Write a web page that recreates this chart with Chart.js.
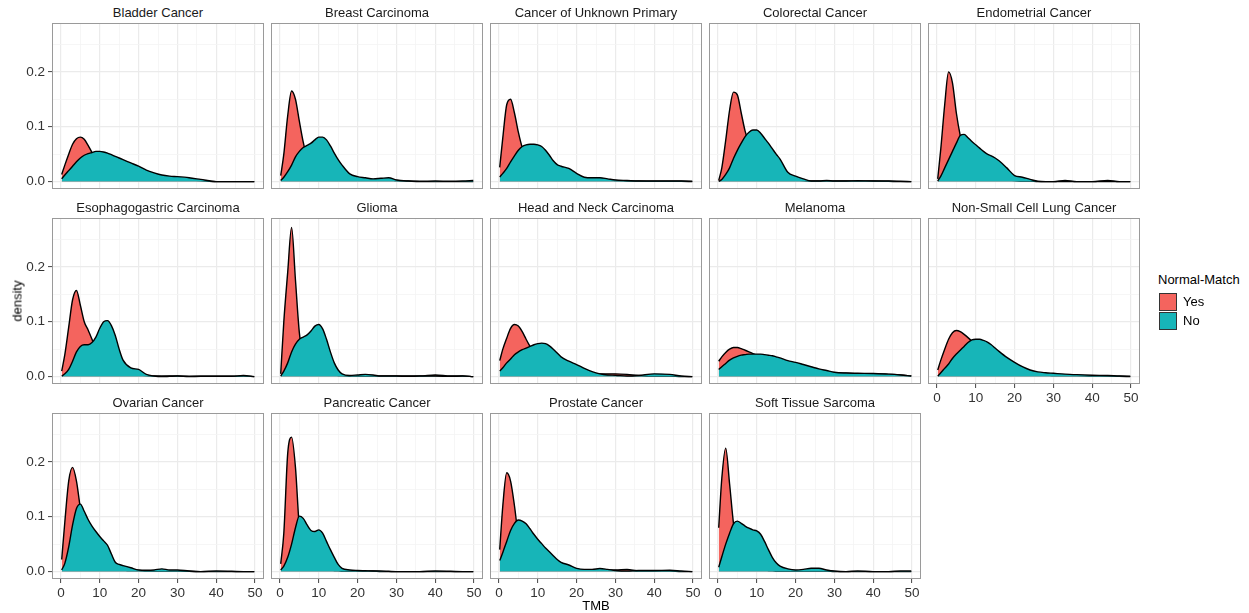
<!DOCTYPE html>
<html>
<head>
<meta charset="utf-8">
<title>TMB density by cancer type</title>
<script src="https://cdn.jsdelivr.net/npm/chart.js@4.4.1/dist/chart.umd.min.js"></script>
<style>
  body { margin: 0; background: #fff; font-family: "Liberation Sans", Arial, sans-serif; }
  #page { position: relative; width: 1249px; height: 613px; overflow: hidden; }
  canvas { position: absolute; }
  .strip { position: absolute; width: 212px; height: 16px; line-height: 16px; text-align: center; font-size: 13px; color: #1a1a1a; white-space: nowrap; }
  .axis-title { position: absolute; font-size: 13px; color: #000; white-space: nowrap; }
  .legend-title { position: absolute; left: 1158px; top: 272px; font-size: 13px; line-height: 16px; color: #000; }
  .key { position: absolute; left: 1159px; width: 16px; height: 16px; border: 1px solid #333; }
  .key-label { position: absolute; left: 1183px; font-size: 13px; line-height: 16px; color: #000; }
</style>
</head>
<body>
<div id="page"></div>
<script>
// TMB grid the density curves are sampled on
const tmb = [0.2, 1, 2, 3, 4, 5, 6, 7, 8, 9, 10, 11, 12, 13, 14, 15, 16, 18, 20, 22, 24, 26, 28, 30, 33, 36, 40, 44, 47, 49.8];

const cancerTypes = [
  'Bladder Cancer', 'Breast Carcinoma', 'Cancer of Unknown Primary', 'Colorectal Cancer', 'Endometrial Cancer',
  'Esophagogastric Carcinoma', 'Glioma', 'Head and Neck Carcinoma', 'Melanoma', 'Non-Small Cell Lung Cancer',
  'Ovarian Cancer', 'Pancreatic Cancer', 'Prostate Cancer', 'Soft Tissue Sarcoma'
];

const xTicks = [0, 5, 10, 15, 20, 25, 30, 35, 40, 45, 50];
const yTicks = [0, 0.05, 0.1, 0.15, 0.2, 0.25];

// density per group (Normal-Match = Yes / No)
const bladderYes = [0.013, 0.03, 0.05, 0.068, 0.078, 0.081, 0.077, 0.066, 0.053, 0.042, 0.033, 0.027, 0.022, 0.018, 0.015, 0.013, 0.012, 0.01, 0.008, 0.007, 0.006, 0.006, 0.005, 0.005, 0.003, 0.002, 0, 0, 0, 0];
const bladderNo = [0.005, 0.012, 0.02, 0.028, 0.036, 0.043, 0.048, 0.051, 0.053, 0.055, 0.055, 0.054, 0.052, 0.049, 0.046, 0.043, 0.04, 0.034, 0.028, 0.021, 0.016, 0.012, 0.01, 0.009, 0.007, 0.004, 0, 0, 0, 0];

const breastYes = [0.011, 0.05, 0.12, 0.165, 0.15, 0.11, 0.072, 0.045, 0.03, 0.02, 0.015, 0.012, 0.01, 0.008, 0.007, 0.006, 0.005, 0.004, 0.003, 0.003, 0.003, 0.003, 0.003, 0.002, 0.001, 0, 0, 0, 0, 0];
const breastNo = [0.002, 0.008, 0.018, 0.03, 0.045, 0.055, 0.062, 0.066, 0.07, 0.076, 0.081, 0.081, 0.076, 0.065, 0.052, 0.04, 0.03, 0.014, 0.009, 0.007, 0.005, 0.006, 0.007, 0.003, 0.001, 0.0005, 0.001, 0.0005, 0.001, 0.002];

const unknownPrimaryYes = [0.026, 0.08, 0.14, 0.15, 0.125, 0.09, 0.062, 0.045, 0.035, 0.028, 0.022, 0.018, 0.015, 0.012, 0.01, 0.009, 0.008, 0.007, 0.006, 0.005, 0.004, 0.004, 0.003, 0.002, 0.001, 0.001, 0.0005, 0.0005, 0.0005, 0];
const unknownPrimaryNo = [0.0085, 0.015, 0.024, 0.036, 0.047, 0.057, 0.064, 0.067, 0.068, 0.068, 0.067, 0.064, 0.057, 0.048, 0.038, 0.031, 0.028, 0.024, 0.015, 0.008, 0.007, 0.007, 0.005, 0.003, 0.002, 0.001, 0.001, 0.001, 0.001, 0.0005];

const colorectalYes = [0.002, 0.025, 0.075, 0.13, 0.163, 0.158, 0.125, 0.092, 0.07, 0.05, 0.035, 0.025, 0.018, 0.013, 0.01, 0.008, 0.006, 0.004, 0.003, 0.002, 0.001, 0.001, 0.001, 0.001, 0.001, 0.001, 0.001, 0.0005, 0, 0];
const colorectalNo = [0.0005, 0.004, 0.013, 0.025, 0.042, 0.057, 0.07, 0.082, 0.09, 0.094, 0.094, 0.088, 0.079, 0.07, 0.06, 0.05, 0.041, 0.017, 0.01, 0.005, 0.001, 0.001, 0.002, 0.001, 0.001, 0.0015, 0.001, 0.001, 0.0005, 0];

const endometrialYes = [0.005, 0.06, 0.14, 0.2, 0.18, 0.125, 0.084, 0.055, 0.04, 0.03, 0.022, 0.017, 0.013, 0.01, 0.008, 0.006, 0.005, 0.003, 0.002, 0.001, 0.001, 0, 0, 0, 0.002, 0, 0, 0.002, 0, 0];
const endometrialNo = [0.001, 0.01, 0.025, 0.04, 0.055, 0.07, 0.084, 0.086, 0.08, 0.073, 0.067, 0.061, 0.055, 0.05, 0.047, 0.043, 0.038, 0.025, 0.011, 0.008, 0.004, 0.0005, 0, 0, 0, 0, 0, 0, 0, 0];

const esophagogastricYes = [0.01, 0.04, 0.09, 0.14, 0.157, 0.13, 0.1, 0.085, 0.068, 0.05, 0.035, 0.025, 0.018, 0.013, 0.01, 0.008, 0.006, 0.004, 0.003, 0.002, 0.001, 0.001, 0.001, 0.001, 0.0005, 0.0005, 0.0005, 0.0005, 0.001, 0];
const esophagogastricNo = [0.001, 0.005, 0.013, 0.028, 0.045, 0.055, 0.058, 0.058, 0.062, 0.072, 0.088, 0.1, 0.102, 0.093, 0.075, 0.05, 0.03, 0.016, 0.013, 0.004, 0.001, 0, 0.0005, 0.001, 0, 0.0005, 0.0005, 0.0005, 0.002, 0];

const gliomaYes = [0.005, 0.1, 0.19, 0.272, 0.176, 0.08, 0.035, 0.022, 0.015, 0.01, 0.008, 0.006, 0.005, 0.004, 0.003, 0.002, 0.002, 0.001, 0.001, 0.001, 0.001, 0.001, 0.001, 0.001, 0.001, 0.001, 0.003, 0.001, 0.001, 0];
const gliomaNo = [0.001, 0.01, 0.025, 0.045, 0.059, 0.068, 0.072, 0.076, 0.083, 0.092, 0.095, 0.087, 0.068, 0.045, 0.025, 0.012, 0.005, 0.002, 0.003, 0.004, 0.003, 0.001, 0.001, 0.001, 0.0005, 0.001, 0.001, 0.0005, 0.001, 0];

const headNeckYes = [0.029, 0.05, 0.07, 0.088, 0.095, 0.092, 0.082, 0.068, 0.055, 0.042, 0.032, 0.025, 0.02, 0.016, 0.013, 0.011, 0.009, 0.007, 0.006, 0.005, 0.005, 0.005, 0.005, 0.005, 0.004, 0.002, 0.001, 0.001, 0, 0];
const headNeckNo = [0.01, 0.016, 0.025, 0.032, 0.04, 0.045, 0.049, 0.052, 0.055, 0.058, 0.06, 0.061, 0.06, 0.056, 0.05, 0.043, 0.036, 0.028, 0.022, 0.015, 0.009, 0.005, 0.003, 0.0025, 0.001, 0.002, 0.005, 0.004, 0.001, 0];

const melanomaYes = [0.028, 0.036, 0.044, 0.05, 0.053, 0.053, 0.051, 0.048, 0.045, 0.042, 0.039, 0.036, 0.034, 0.031, 0.029, 0.027, 0.025, 0.022, 0.02, 0.017, 0.014, 0.011, 0.009, 0.007, 0.006, 0.005, 0.005, 0.004, 0.003, 0.001];
const melanomaNo = [0.013, 0.018, 0.024, 0.03, 0.034, 0.037, 0.039, 0.04, 0.041, 0.041, 0.041, 0.041, 0.04, 0.039, 0.038, 0.036, 0.034, 0.029, 0.026, 0.022, 0.018, 0.014, 0.011, 0.008, 0.0065, 0.006, 0.0055, 0.0045, 0.003, 0.001];

const lungYes = [0.012, 0.03, 0.05, 0.068, 0.08, 0.084, 0.082, 0.077, 0.071, 0.064, 0.056, 0.048, 0.04, 0.033, 0.027, 0.022, 0.018, 0.012, 0.008, 0.005, 0.004, 0.003, 0.003, 0.002, 0.002, 0.002, 0.001, 0.001, 0.0005, 0];
const lungNo = [0.001, 0.007, 0.015, 0.023, 0.033, 0.041, 0.048, 0.055, 0.062, 0.067, 0.068, 0.068, 0.066, 0.063, 0.058, 0.052, 0.046, 0.035, 0.026, 0.018, 0.012, 0.0085, 0.007, 0.006, 0.0045, 0.0035, 0.0025, 0.002, 0.001, 0.0005];

const ovarianYes = [0.022, 0.09, 0.165, 0.19, 0.165, 0.115, 0.07, 0.045, 0.03, 0.02, 0.015, 0.011, 0.008, 0.006, 0.005, 0.004, 0.003, 0.002, 0.002, 0.001, 0.001, 0.001, 0.001, 0.001, 0.0005, 0, 0, 0, 0, 0];
const ovarianNo = [0.003, 0.015, 0.045, 0.085, 0.115, 0.123, 0.11, 0.095, 0.083, 0.073, 0.064, 0.056, 0.048, 0.032, 0.017, 0.013, 0.011, 0.007, 0.003, 0.0025, 0.003, 0.005, 0.003, 0.003, 0.001, 0, 0.001, 0.0005, 0, 0];

const pancreaticYes = [0.014, 0.07, 0.215, 0.245, 0.19, 0.08, 0.035, 0.02, 0.012, 0.008, 0.006, 0.005, 0.004, 0.003, 0.002, 0.002, 0.001, 0.001, 0.001, 0.001, 0.001, 0, 0, 0, 0, 0, 0, 0, 0, 0];
const pancreaticNo = [0.003, 0.01, 0.026, 0.05, 0.08, 0.101, 0.097, 0.085, 0.075, 0.073, 0.076, 0.07, 0.055, 0.04, 0.026, 0.013, 0.006, 0.003, 0.002, 0.0015, 0.001, 0.001, 0.0005, 0, 0, 0, 0.001, 0.0005, 0, 0];

const prostateYes = [0.04, 0.12, 0.18, 0.165, 0.12, 0.065, 0.04, 0.03, 0.022, 0.016, 0.012, 0.009, 0.007, 0.006, 0.005, 0.004, 0.004, 0.003, 0.003, 0.003, 0.003, 0.003, 0.003, 0.003, 0.004, 0.001, 0.001, 0.001, 0, 0];
const prostateNo = [0.02, 0.035, 0.055, 0.075, 0.088, 0.094, 0.092, 0.087, 0.078, 0.068, 0.059, 0.051, 0.043, 0.036, 0.029, 0.022, 0.017, 0.012, 0.006, 0.004, 0.004, 0.0055, 0.004, 0.002, 0.001, 0.002, 0.002, 0.0025, 0.001, 0];

const sarcomaYes = [0.08, 0.17, 0.225, 0.16, 0.088, 0.04, 0.02, 0.012, 0.008, 0.006, 0.005, 0.004, 0.003, 0.002, 0.002, 0.001, 0.001, 0.001, 0.001, 0.001, 0.001, 0.001, 0.001, 0, 0, 0, 0, 0, 0, 0];
const sarcomaNo = [0.008, 0.027, 0.05, 0.07, 0.087, 0.092, 0.088, 0.083, 0.079, 0.076, 0.074, 0.068, 0.055, 0.04, 0.026, 0.016, 0.01, 0.005, 0.003, 0.004, 0.006, 0.006, 0.003, 0.001, 0, 0.001, 0, 0, 0.001, 0.001];

const yesSeries = [bladderYes, breastYes, unknownPrimaryYes, colorectalYes, endometrialYes, esophagogastricYes, gliomaYes,
  headNeckYes, melanomaYes, lungYes, ovarianYes, pancreaticYes, prostateYes, sarcomaYes];
const noSeries = [bladderNo, breastNo, unknownPrimaryNo, colorectalNo, endometrialNo, esophagogastricNo, gliomaNo,
  headNeckNo, melanomaNo, lungNo, ovarianNo, pancreaticNo, prostateNo, sarcomaNo];

const YES_COLOR = '#f4645e';
const NO_COLOR = '#17b5b8';
const FONT = "'Liberation Sans', Arial, sans-serif";

// facet geometry
const PANEL_W = 212, PANEL_H = 166;
const COL_STEP = 219, ROW_STEP = 195;
const PANEL_X0 = 52, PANEL_Y0 = 23;
const AXIS_W = 50, AXIS_H = 26, PAD_TOP = 6, PAD_RIGHT = 12;

const page = document.getElementById('page');

const isMajorX = v => Math.abs(v / 10 - Math.round(v / 10)) < 1e-9;
const isMajorY = v => Math.abs(v * 10 - Math.round(v * 10)) < 1e-9;

// ggplot-like panel border drawn over the data
const panelFrame = {
  id: 'panelFrame',
  afterDraw(chart) {
    const { ctx, chartArea: a } = chart;
    ctx.save();
    ctx.strokeStyle = '#9a9a9a';
    ctx.lineWidth = 1;
    ctx.strokeRect(Math.round(a.left) + 0.5, Math.round(a.top) + 0.5, Math.round(a.width) - 1, Math.round(a.height) - 1);
    ctx.restore();
  }
};

function addDiv(cls, text, style) {
  const d = document.createElement('div');
  d.className = cls;
  d.textContent = text;
  Object.assign(d.style, style);
  page.appendChild(d);
  return d;
}

cancerTypes.forEach((name, i) => {
  const col = i % 5, row = Math.floor(i / 5);
  const left = PANEL_X0 + COL_STEP * col;
  const top = PANEL_Y0 + ROW_STEP * row;
  const showY = col === 0;
  const showX = row === 2 || (row === 1 && col === 4);

  addDiv('strip', name, { left: left + 'px', top: (top - 18) + 'px' });

  const canvas = document.createElement('canvas');
  canvas.width = AXIS_W + PANEL_W + PAD_RIGHT;
  canvas.height = PAD_TOP + PANEL_H + AXIS_H;
  canvas.style.left = (left - AXIS_W) + 'px';
  canvas.style.top = (top - PAD_TOP) + 'px';
  page.appendChild(canvas);

  const toPoints = arr => tmb.map((x, k) => ({ x, y: arr[k] }));
  const curve = (label, arr, color, order) => ({
    label, data: toPoints(arr), order,
    borderColor: '#000', borderWidth: 1.4,
    backgroundColor: color, fill: 'origin',
    pointRadius: 0, cubicInterpolationMode: 'monotone'
  });

  new Chart(canvas, {
    type: 'line',
    data: {
      datasets: [
        curve('Yes', yesSeries[i], YES_COLOR, 1),
        curve('No', noSeries[i], NO_COLOR, 0)
      ]
    },
    options: {
      responsive: false,
      animation: false,
      events: [],
      layout: { padding: { left: 0, top: PAD_TOP, right: PAD_RIGHT, bottom: 0 } },
      plugins: { legend: { display: false }, tooltip: { enabled: false } },
      scales: {
        x: {
          type: 'linear', min: -2.3, max: 52.3,
          afterBuildTicks: s => { s.ticks = xTicks.map(v => ({ value: v })); },
          afterFit: s => { s.height = AXIS_H; s.paddingLeft = 0; s.paddingRight = 0; },
          border: { display: false },
          grid: {
            color: c => isMajorX(c.tick.value) ? '#ebebeb' : '#f4f4f4',
            lineWidth: c => isMajorX(c.tick.value) ? 1.2 : 0.8,
            drawTicks: showX, tickLength: 4, tickWidth: 1,
            tickColor: c => isMajorX(c.tick.value) ? '#444' : 'rgba(0,0,0,0)'
          },
          ticks: {
            display: showX, autoSkip: false, maxRotation: 0, padding: 2,
            color: '#333', font: { family: FONT, size: 13.5 },
            callback: v => isMajorX(v) ? String(v) : ''
          }
        },
        y: {
          type: 'linear', min: -0.0135, max: 0.289,
          afterBuildTicks: s => { s.ticks = yTicks.map(v => ({ value: v })); },
          afterFit: s => { s.width = AXIS_W; s.paddingTop = 0; s.paddingBottom = 0; },
          border: { display: false },
          grid: {
            color: c => isMajorY(c.tick.value) ? '#ebebeb' : '#f4f4f4',
            lineWidth: c => isMajorY(c.tick.value) ? 1.2 : 0.8,
            drawTicks: showY, tickLength: 4, tickWidth: 1,
            tickColor: c => isMajorY(c.tick.value) ? '#444' : 'rgba(0,0,0,0)'
          },
          ticks: {
            display: showY, autoSkip: false, padding: 3,
            color: '#333', font: { family: FONT, size: 13.5 },
            callback: v => isMajorY(v) ? v.toFixed(1) : ''
          }
        }
      }
    },
    plugins: [panelFrame]
  });
});

// shared axis titles
const yTitle = addDiv('axis-title', 'density', { left: '17px', top: '301px' });
yTitle.style.transform = 'translate(-50%, -50%) rotate(-90deg)';
const xTitle = addDiv('axis-title', 'TMB', { left: '596px', top: '605px' });
xTitle.style.transform = 'translate(-50%, -50%)';

// legend
addDiv('legend-title', 'Normal-Match', {});
addDiv('key', '', { top: '293px', background: YES_COLOR });
addDiv('key', '', { top: '312px', background: NO_COLOR });
addDiv('key-label', 'Yes', { top: '294px' });
addDiv('key-label', 'No', { top: '313px' });
</script>
</body>
</html>
